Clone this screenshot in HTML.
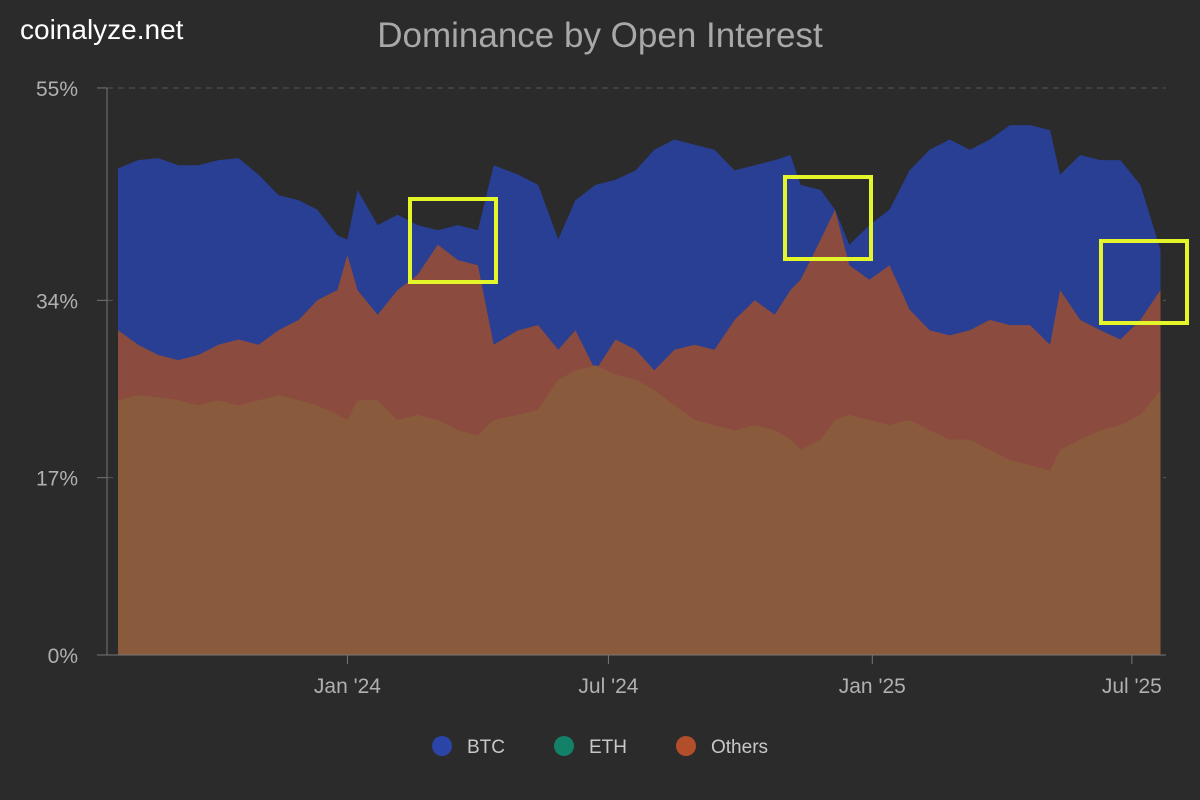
<!DOCTYPE html>
<html><head><meta charset="utf-8"><style>
body{margin:0;background:#2b2b2b;}
svg{display:block;font-family:"Liberation Sans",sans-serif;}
</style></head><body>
<svg id="chart" width="1200" height="800">
<rect width="1200" height="800" fill="#2b2b2b"/>
<text x="20" y="39" fill="#ffffff" font-size="28">coinalyze.net</text>
<text x="600" y="47" fill="#a8a8a8" font-size="35" text-anchor="middle">Dominance by Open Interest</text>
<g id="grid"></g><g id="areas"></g><g id="axes"></g>
<g fill="none" stroke="#e4f52a" stroke-width="4">
<rect x="410" y="199" width="86" height="83"/>
<rect x="785" y="177" width="86" height="82"/>
<rect x="1101" y="241" width="86" height="82"/>
</g>
<g font-size="19" fill="#c8c8c8">
<g><circle cx="442" cy="746" r="10" fill="#2a44a8"/><text x="467" y="753">BTC</text></g>
<g><circle cx="564" cy="746" r="10" fill="#138068"/><text x="589" y="753">ETH</text></g>
<g><circle cx="686" cy="746" r="10" fill="#b24e2a"/><text x="711" y="753">Others</text></g>
</g>
</svg>
<script>
const startDate = "2023-07-25";
const dayOffsets = [0,14,28,42,56,70,84,98,112,126,139,153,160,167,181,195,209,223,237,251,262,279,293,307,319,333,347,361,374,388,402,416,430,444,458,469,476,490,500,510,524,538,552,566,580,594,608,622,636,650,657,671,685,699,713,727];
const btcValues = [47.2,48.0,48.2,47.5,47.5,48.0,48.2,46.6,44.6,44.1,43.2,40.7,40.3,45.1,41.7,42.7,41.7,41.2,41.7,41.2,47.5,46.6,45.6,40.3,44.1,45.6,46.1,47.0,49.0,50.0,49.5,49.0,47.0,47.5,48.0,48.5,45.6,45.1,43.2,39.8,41.7,43.2,47.0,49.0,50.0,49.0,50.0,51.4,51.4,50.9,46.6,48.5,48.0,48.0,45.6,39.3];
const othersValues = [31.5,30.1,29.1,28.6,29.1,30.1,30.6,30.1,31.5,32.5,34.4,35.4,38.8,35.4,33.0,35.4,36.9,39.8,38.3,37.8,30.1,31.5,32.0,29.6,31.5,27.6,30.6,29.6,27.6,29.6,30.1,29.6,32.5,34.4,33.0,35.4,36.4,40.3,43.2,37.8,36.4,37.8,33.5,31.5,31.0,31.5,32.5,32.0,32.0,30.1,35.4,32.5,31.5,30.6,32.5,35.4];
const ethValues = [24.7,25.2,25.0,24.7,24.2,24.7,24.2,24.7,25.2,24.7,24.2,23.3,22.8,24.7,24.7,22.8,23.3,22.8,21.8,21.3,22.8,23.3,23.8,26.7,27.6,28.1,27.2,26.7,25.7,24.2,22.8,22.3,21.8,22.3,21.8,20.9,19.9,20.9,22.8,23.3,22.8,22.3,22.8,21.8,20.9,20.9,19.9,18.9,18.4,17.9,19.9,20.9,21.8,22.3,23.3,25.7];
const yTickValues = [0,17.2,34.4,55];
const yTickLabels = ["0%","17%","34%","55%"];
const xTickDays = [160,342,526,707];
const xTickLabels = ["Jan '24","Jul '24","Jan '25","Jul '25"];

const NS="http://www.w3.org/2000/svg";
const X0=118, PXD=1.434, Y0=655, PXV=10.31;
const xs=d=>X0+d*PXD;
const ys=v=>Y0-v*PXV;
function mk(tag,attrs,parent){const e=document.createElementNS(NS,tag);for(const k in attrs)e.setAttribute(k,attrs[k]);parent.appendChild(e);return e;}
const grid=document.getElementById('grid'), areas=document.getElementById('areas'), axes=document.getElementById('axes');

yTickValues.forEach((v,i)=>{
  const y=ys(v);
  if(v>0){const g=mk('line',{x1:107,x2:1166,y1:y,y2:y,stroke:'#555',"stroke-dasharray":"6,5","stroke-width":1},grid);
  
  }
  const t=mk('line',{x1:97,x2:107,y1:y,y2:y,stroke:'#777'},axes);
  
  
  const l=mk('text',{x:78,y:y+8,fill:'#b0b0b0',"font-size":21,"text-anchor":"end"},axes);
  l.textContent=yTickLabels[i];
  
  
});
function area(vals,fill,name){
  let d='M'+xs(dayOffsets[0])+','+Y0;
  vals.forEach((v,i)=>{d+=' L'+xs(dayOffsets[i]).toFixed(1)+','+ys(v).toFixed(1);});
  d+=' L'+xs(dayOffsets[dayOffsets.length-1]).toFixed(1)+','+Y0+' Z';
  const p=mk('path',{d:d,fill:fill},areas);
  
  
}
area(btcValues,'#283f94','btc-area');
area(othersValues,'#8b4b3e','others-area');
area(ethValues,'#8a5a3d','eth-area');

const ya=mk('line',{x1:107,x2:107,y1:88,y2:Y0,stroke:'#777'},axes);


const xa=mk('line',{x1:97,x2:1166,y1:Y0,y2:Y0,stroke:'#777'},axes);


xTickDays.forEach((d,i)=>{
  const x=xs(d);
  const t=mk('line',{x1:x,x2:x,y1:Y0,y2:Y0+9,stroke:'#777'},axes);
  
  
  const l=mk('text',{x:x,y:693,fill:'#b0b0b0',"font-size":21,"text-anchor":"middle"},axes);
  l.textContent=xTickLabels[i];
  
  
});
</script>
</body></html>
